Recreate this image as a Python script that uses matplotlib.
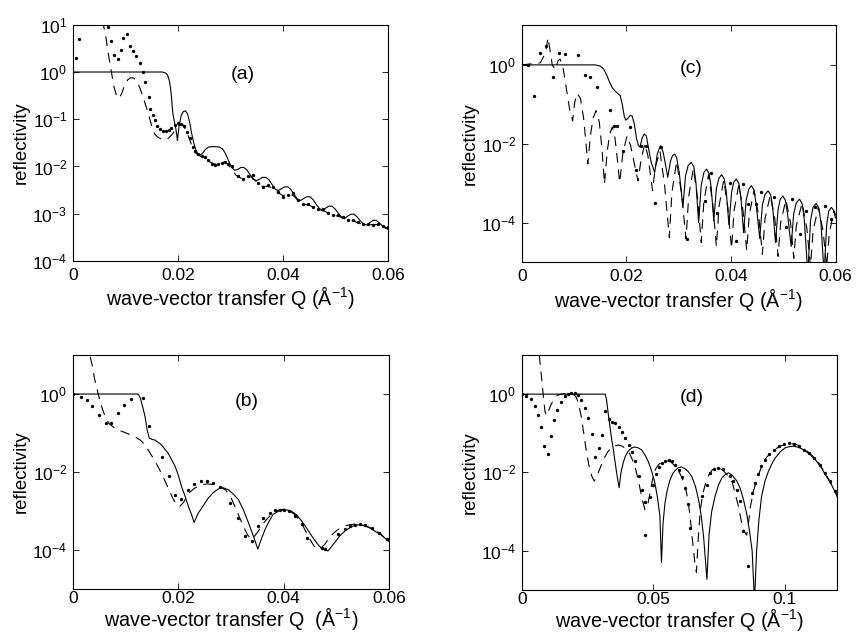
import numpy as np
import matplotlib
matplotlib.use('Agg')
import matplotlib.pyplot as plt
from matplotlib.ticker import NullLocator, FixedLocator

plt.rcParams['font.family'] = ['Liberation Sans', 'DejaVu Sans']
plt.rcParams['mathtext.fontset'] = 'custom'
plt.rcParams['mathtext.rm'] = 'Liberation Sans'
plt.rcParams['mathtext.it'] = 'Liberation Sans:italic'
plt.rcParams['mathtext.default'] = 'regular'
plt.rcParams['lines.scale_dashes'] = False

# reflectivity curves, Q in 1/A and log10(R)
# (a)
a_dots_q = [0.0006, 0.0012, 0.0066, 0.0072, 0.0079, 0.0085, 0.0091, 0.0096, 0.0103, 0.0108,
            0.0115, 0.0121, 0.0127, 0.0133, 0.0138, 0.0144, 0.0147, 0.0152, 0.0156, 0.0161,
            0.0165, 0.0171, 0.0177, 0.0182, 0.0187, 0.0194, 0.0200, 0.0205, 0.0211, 0.0217,
            0.0222, 0.0228, 0.0232, 0.0239, 0.0245, 0.0251, 0.0258, 0.0264, 0.0270, 0.0277,
            0.0283, 0.0290, 0.0296, 0.0302, 0.0315, 0.0324, 0.0334, 0.0343, 0.0353, 0.0362,
            0.0372, 0.0381, 0.0391, 0.0400, 0.0410, 0.0419, 0.0429, 0.0438, 0.0448, 0.0457,
            0.0467, 0.0476, 0.0486, 0.0495, 0.0505, 0.0514, 0.0524, 0.0533, 0.0543, 0.0552,
            0.0562, 0.0571, 0.0581, 0.0591, 0.0599]
a_dots_log = [0.29, 0.70, 0.96, 0.65, 0.36, 0.27, 0.46, 0.72, 0.81, 0.56,
              0.45, 0.34, 0.19, 0.01, -0.22, -0.52, -0.79, -0.91, -1.01, -1.15,
              -1.21, -1.24, -1.25, -1.23, -1.18, -1.12, -1.08, -1.09, -1.14, -1.28,
              -1.40, -1.58, -1.68, -1.74, -1.77, -1.79, -1.86, -1.95, -1.96, -1.94,
              -1.92, -1.90, -1.94, -2.00, -2.21, -2.27, -2.21, -2.19, -2.35, -2.43,
              -2.40, -2.43, -2.53, -2.64, -2.60, -2.57, -2.71, -2.79, -2.80, -2.85,
              -2.90, -2.91, -2.98, -3.03, -3.03, -3.06, -3.13, -3.13, -3.17, -3.22,
              -3.22, -3.24, -3.22, -3.26, -3.29]
a_dash_q = [0.0056, 0.0062, 0.0067, 0.0073, 0.0078, 0.0083, 0.0088, 0.0093, 0.0098, 0.0104,
            0.0110, 0.0116, 0.0122, 0.0128, 0.0134, 0.0140, 0.0146, 0.0151, 0.0156, 0.0162,
            0.0168, 0.0175, 0.0182, 0.0189, 0.0196, 0.0203, 0.0210, 0.0218, 0.0226, 0.0234,
            0.0242, 0.0250, 0.0260, 0.0270, 0.0280, 0.0290, 0.0300, 0.0310, 0.0320, 0.0330,
            0.0340, 0.0350, 0.0360, 0.0370, 0.0380, 0.0390, 0.0400, 0.0410, 0.0420, 0.0430,
            0.0440, 0.0450, 0.0460, 0.0470, 0.0480, 0.0490, 0.0500, 0.0510, 0.0520, 0.0530,
            0.0540, 0.0550, 0.0560, 0.0570, 0.0580, 0.0590, 0.0600]
a_dash_log = [1.1, 0.8, 0.42, 0.02, -0.3, -0.5, -0.56, -0.45, -0.3, -0.17,
              -0.12, -0.13, -0.2, -0.35, -0.55, -0.75, -0.98, -1.18, -1.32, -1.38,
              -1.42, -1.43, -1.40, -1.32, -1.20, -1.12, -1.12, -1.30, -1.55, -1.72,
              -1.78, -1.82, -1.90, -1.95, -1.93, -1.90, -2.02, -2.18, -2.25, -2.22,
              -2.22, -2.33, -2.42, -2.42, -2.45, -2.55, -2.62, -2.58, -2.62, -2.74,
              -2.80, -2.82, -2.88, -2.92, -2.95, -3.02, -3.04, -3.07, -3.12, -3.14,
              -3.18, -3.22, -3.23, -3.23, -3.23, -3.27, -3.30]
a_fit_q = [0.0, 0.0170, 0.0176, 0.0180, 0.0184, 0.0187, 0.0190, 0.0193, 0.0196, 0.0199,
           0.0202, 0.0206, 0.0210, 0.0214, 0.0218, 0.0222, 0.0226, 0.0230, 0.0234, 0.0238,
           0.0242, 0.0247, 0.0252, 0.0258, 0.0265, 0.0272, 0.0279, 0.0285, 0.0290, 0.0294,
           0.0297, 0.0302, 0.0308, 0.0314, 0.0320, 0.0325, 0.0331, 0.0337, 0.0343, 0.0349,
           0.0355, 0.0361, 0.0367, 0.0373, 0.0379, 0.0385, 0.0391, 0.0397, 0.0403, 0.0409,
           0.0415, 0.0421, 0.0427, 0.0433, 0.0439, 0.0445, 0.0451, 0.0457, 0.0463, 0.0469,
           0.0475, 0.0481, 0.0487, 0.0493, 0.0499, 0.0505, 0.0511, 0.0517, 0.0523, 0.0529,
           0.0535, 0.0541, 0.0547, 0.0553, 0.0559, 0.0565, 0.0571, 0.0577, 0.0583, 0.0589,
           0.0595, 0.0600]
a_fit_log = [0.0, 0.0, -0.02, -0.06, -0.2, -0.45, -0.85, -1.05, -1.2, -1.45,
             -1.15, -0.93, -0.84, -0.82, -0.88, -1.05, -1.3, -1.5, -1.65, -1.74,
             -1.76, -1.72, -1.64, -1.59, -1.58, -1.58, -1.59, -1.63, -1.72, -1.82,
             -1.90, -2.02, -2.08, -2.06, -2.02, -2.02, -2.07, -2.17, -2.27, -2.30,
             -2.27, -2.23, -2.23, -2.28, -2.38, -2.48, -2.51, -2.47, -2.43, -2.43,
             -2.49, -2.59, -2.69, -2.72, -2.68, -2.64, -2.64, -2.70, -2.80, -2.89,
             -2.92, -2.88, -2.84, -2.84, -2.90, -2.99, -3.07, -3.10, -3.05, -3.01,
             -3.01, -3.07, -3.15, -3.22, -3.24, -3.19, -3.14, -3.14, -3.19, -3.26,
             -3.31, -3.33]

# (b)
b_dots_q = [0.0001, 0.0015, 0.0026, 0.0037, 0.0050, 0.0063, 0.0072, 0.0086, 0.0097, 0.0110,
            0.0134, 0.0144, 0.0170, 0.0182, 0.0194, 0.0206, 0.0219, 0.0230, 0.0243, 0.0254,
            0.0266, 0.0279, 0.0298, 0.0314, 0.0327, 0.0339, 0.0352, 0.0361, 0.0374, 0.0384,
            0.0393, 0.0401, 0.0410, 0.0422, 0.0434, 0.0444, 0.0472, 0.0478, 0.0504, 0.0516,
            0.0526, 0.0535, 0.0545, 0.0554, 0.0567, 0.0580, 0.0596]
b_dots_log = [0.0, -0.07, -0.15, -0.31, -0.54, -0.73, -0.73, -0.49, -0.28, -0.14,
              -0.11, -0.82, -1.61, -2.09, -2.59, -2.70, -2.46, -2.30, -2.22, -2.22,
              -2.28, -2.39, -2.79, -3.17, -3.63, -3.76, -3.38, -3.17, -3.04, -2.97,
              -2.96, -2.96, -3.0, -3.12, -3.34, -3.68, -3.95, -3.97, -3.59, -3.46,
              -3.38, -3.36, -3.34, -3.36, -3.42, -3.55, -3.70]
b_dash_q = [0.0033, 0.0037, 0.0041, 0.0046, 0.0051, 0.0056, 0.0062, 0.0069, 0.0080, 0.0092,
            0.0105, 0.0118, 0.0128, 0.0137, 0.0146, 0.0156, 0.0165, 0.0174, 0.0183, 0.0190,
            0.0197, 0.0203, 0.0210, 0.0219, 0.0230, 0.0242, 0.0255, 0.0268, 0.0280, 0.0290,
            0.0300, 0.0308, 0.0316, 0.0324, 0.0332, 0.0340, 0.0350, 0.0362, 0.0375, 0.0388,
            0.0400, 0.0412, 0.0424, 0.0436, 0.0448, 0.0458, 0.0468, 0.0478, 0.0488, 0.0500,
            0.0512, 0.0524, 0.0536, 0.0548, 0.0560, 0.0572, 0.0584, 0.0600]
b_dash_log = [0.95, 0.72, 0.40, 0.12, -0.15, -0.38, -0.60, -0.76, -0.88, -0.95,
              -1.02, -1.10, -1.18, -1.30, -1.50, -1.72, -1.95, -2.20, -2.47, -2.68,
              -2.85, -2.87, -2.78, -2.55, -2.42, -2.33, -2.30, -2.32, -2.38, -2.46,
              -2.65, -2.90, -3.15, -3.40, -3.62, -3.72, -3.55, -3.30, -3.10, -2.98,
              -2.95, -3.00, -3.12, -3.36, -3.68, -3.90, -3.97, -3.85, -3.65, -3.50,
              -3.40, -3.35, -3.33, -3.35, -3.40, -3.48, -3.58, -3.80]
b_fit_q = [0.0, 0.0124, 0.0128, 0.0132, 0.0137, 0.0141, 0.0145, 0.0150, 0.0156, 0.0162,
           0.0168, 0.0175, 0.0181, 0.0188, 0.0194, 0.0200, 0.0206, 0.0213, 0.0219, 0.0225,
           0.0230, 0.0238, 0.0247, 0.0256, 0.0266, 0.0276, 0.0285, 0.0295, 0.0305, 0.0314,
           0.0324, 0.0333, 0.0342, 0.0351, 0.0358, 0.0365, 0.0372, 0.0380, 0.0390, 0.0399,
           0.0407, 0.0415, 0.0425, 0.0434, 0.0444, 0.0453, 0.0463, 0.0472, 0.0484, 0.0490,
           0.0497, 0.0506, 0.0516, 0.0526, 0.0535, 0.0545, 0.0554, 0.0564, 0.0573, 0.0586,
           0.0600]
b_fit_log = [0.0, 0.0, -0.1, -0.3, -0.58, -0.92, -1.13, -1.16, -1.18, -1.24,
             -1.30, -1.42, -1.52, -1.70, -1.85, -2.08, -2.36, -2.62, -2.87, -3.08,
             -3.29, -3.05, -2.87, -2.68, -2.53, -2.43, -2.40, -2.45, -2.57, -2.70,
             -2.98, -3.29, -3.62, -3.97, -3.70, -3.46, -3.27, -3.08, -3.0, -2.97,
             -2.97, -3.0, -3.1, -3.25, -3.44, -3.63, -3.82, -3.96, -4.02, -3.92,
             -3.80, -3.64, -3.51, -3.42, -3.36, -3.35, -3.38, -3.43, -3.51, -3.62,
             -3.78]

# (c)
c_dots_q = [0.0011, 0.0023, 0.0035, 0.0046, 0.0059, 0.0071, 0.0083, 0.0107, 0.0120, 0.0131,
            0.0144, 0.0168, 0.0176, 0.0181, 0.0194, 0.0206, 0.0219, 0.0227, 0.0238, 0.0254,
            0.0266, 0.0315, 0.0350, 0.0362, 0.0374, 0.0399, 0.0410, 0.0423, 0.0432, 0.0448,
            0.0458, 0.0483, 0.0506, 0.0517, 0.0531, 0.0544, 0.0560, 0.0579, 0.0591]
c_dots_log = [0.0, -0.78, 0.30, 0.48, -0.30, 0.31, 0.27, 0.25, -0.26, -0.30,
              -0.56, -1.15, -1.54, -1.54, -2.18, -1.57, -2.67, -2.05, -2.05, -3.49,
              -2.09, -4.41, -3.44, -2.73, -3.76, -3.0, -4.46, -3.02, -3.53, -3.53,
              -3.21, -3.34, -4.1, -3.40, -4.28, -3.70, -3.61, -3.57, -3.9]
c_dash_q = [0.0, 0.0035, 0.0045, 0.0050, 0.0054, 0.0058, 0.0064, 0.0069, 0.0073, 0.0079,
            0.0085, 0.0091, 0.0097, 0.0101, 0.0106, 0.0112, 0.0118, 0.0122, 0.0126, 0.0131,
            0.0136, 0.0142, 0.0148, 0.0153, 0.0158, 0.0163, 0.0168, 0.0173, 0.0178, 0.0183,
            0.0187, 0.0193, 0.0201, 0.0208, 0.0215, 0.0222, 0.0228, 0.0235, 0.0241, 0.0246,
            0.0250, 0.0255, 0.0264, 0.0273, 0.0282, 0.0287, 0.0296, 0.0305, 0.0314, 0.0319,
            0.0328, 0.0336, 0.0343, 0.0348, 0.0357, 0.0365, 0.0372, 0.0377, 0.0386, 0.0394,
            0.0401, 0.0406, 0.0415, 0.0423, 0.0430, 0.0435, 0.0444, 0.0453, 0.0460, 0.0465,
            0.0475, 0.0484, 0.0490, 0.0495, 0.0505, 0.0514, 0.0520, 0.0525, 0.0536, 0.0545,
            0.0552, 0.0557, 0.0567, 0.0576, 0.0583, 0.0588, 0.0597, 0.0600]
c_dash_log = [0.0, 0.05, 0.30, 0.69, 0.35, 0.0, -0.12, 0.10, 0.15, -0.10,
              -0.60, -1.10, -1.42, -0.95, -0.72, -0.85, -1.35, -1.90, -2.51, -1.80,
              -1.35, -1.16, -1.45, -2.10, -3.02, -2.20, -1.75, -1.57, -1.85, -2.45,
              -2.98, -2.25, -1.80, -2.05, -2.50, -2.94, -2.40, -2.00, -2.30, -2.80,
              -3.19, -2.60, -2.18, -3.06, -4.37, -3.22, -2.45, -3.23, -4.41, -3.33,
              -2.62, -3.37, -4.50, -3.47, -2.78, -3.51, -4.60, -3.59, -2.92, -3.61,
              -4.65, -3.68, -3.03, -3.70, -4.70, -3.79, -3.18, -3.83, -4.80, -3.90,
              -3.30, -3.92, -4.85, -3.99, -3.42, -4.01, -4.90, -4.06, -3.50, -4.14,
              -5.10, -4.20, -3.60, -4.20, -5.10, -4.26, -3.70, -3.90]
c_fit_q = [0.0, 0.0140, 0.0150, 0.0156, 0.0162, 0.0168, 0.0173, 0.0178, 0.0183, 0.0188,
           0.0192, 0.0196, 0.0199, 0.0203, 0.0207, 0.0211, 0.0215, 0.0219, 0.0223, 0.0226,
           0.0230, 0.0234, 0.0238, 0.0242, 0.0247, 0.0254, 0.0259, 0.0265, 0.0270, 0.0275,
           0.0279, 0.0284, 0.0288, 0.0292, 0.0296, 0.0301,
           0.0308, 0.0313, 0.0318, 0.0324, 0.0329, 0.0333,
           0.0338, 0.0343, 0.0348, 0.0353, 0.0358, 0.0362,
           0.0367, 0.0372, 0.0377, 0.0382, 0.0387, 0.0391,
           0.0396, 0.0401, 0.0405, 0.0410, 0.0415, 0.0419,
           0.0424, 0.0429, 0.0434, 0.0439, 0.0444, 0.0448,
           0.0455, 0.0460, 0.0465, 0.0471, 0.0476, 0.0480,
           0.0485, 0.0490, 0.0494, 0.0499, 0.0504, 0.0508,
           0.0515, 0.0520, 0.0525, 0.0531, 0.0536, 0.0540,
           0.0547, 0.0552, 0.0557, 0.0563, 0.0568, 0.0572,
           0.0578, 0.0583, 0.0587, 0.0592, 0.0596, 0.0600]
c_fit_log = [0.0, 0.0, -0.03, -0.10, -0.25, -0.45, -0.58, -0.66, -0.72, -0.78,
             -1.0, -1.32, -1.40, -1.35, -1.28, -1.30, -1.50, -1.85, -2.05, -2.08,
             -1.85, -1.75, -1.80, -2.10, -2.45, -2.73, -2.25, -2.05, -2.20, -2.55,
             -2.85, -2.45, -2.30, -2.26, -2.35, -2.73,
             -3.60, -2.81, -2.55, -2.47, -2.58, -3.00,
             -4.00, -3.05, -2.73, -2.64, -2.75, -3.10,
             -3.95, -3.13, -2.87, -2.78, -2.89, -3.22,
             -4.05, -3.24, -2.98, -2.89, -3.00, -3.37,
             -4.25, -3.42, -3.15, -3.06, -3.17, -3.53,
             -4.40, -3.55, -3.28, -3.19, -3.30, -3.65,
             -4.50, -3.67, -3.41, -3.32, -3.43, -3.77,
             -4.60, -3.76, -3.49, -3.40, -3.52, -3.90,
             -5.30, -3.95, -3.60, -3.51, -3.63, -4.00,
             -5.30, -4.05, -3.70, -3.61, -3.68, -3.80]

# (d)
d_dots_q = [0.0, 0.0016, 0.0033, 0.0048, 0.0061, 0.0074, 0.0084, 0.0099, 0.0109, 0.0122,
            0.0135, 0.0150, 0.0163, 0.0175, 0.0188, 0.0201, 0.0213, 0.0226, 0.0239, 0.0251,
            0.0267, 0.0279, 0.0292, 0.0305, 0.0317, 0.0330, 0.0342, 0.0354, 0.0368, 0.0381,
            0.0394, 0.0406, 0.0419, 0.0432, 0.0444, 0.0457, 0.0467, 0.0470, 0.0487, 0.0499,
            0.0509, 0.0521, 0.0533, 0.0546, 0.0558, 0.0571, 0.0584, 0.0596, 0.0608, 0.0620,
            0.0632, 0.0640, 0.0685, 0.0704, 0.0716, 0.0730, 0.0748, 0.0766, 0.0792, 0.0805,
            0.0818, 0.0830, 0.0843, 0.0860, 0.0877, 0.0888, 0.0898, 0.0911, 0.0926, 0.0942,
            0.0961, 0.0980, 0.0999, 0.1018, 0.1037, 0.1056, 0.1075, 0.1094, 0.1113, 0.1133,
            0.1152, 0.1171, 0.1190]
d_dots_log = [0.0, -0.04, -0.13, -0.31, -0.53, -0.84, -1.33, -1.54, -1.06, -0.65,
              -0.40, -0.19, -0.06, 0.01, 0.02, 0.02, -0.02, -0.14, -0.36, -0.61,
              -1.01, -1.60, -1.37, -1.04, -0.44, -0.64, -0.70, -0.74, -0.84, -0.98,
              -1.12, -1.29, -1.49, -1.71, -2.10, -2.44, -2.76, -3.61, -2.62, -2.31,
              -2.05, -1.86, -1.76, -1.70, -1.69, -1.71, -1.80, -1.95, -2.11, -2.40,
              -2.80, -3.41, -2.61, -2.31, -2.01, -1.92, -1.88, -1.92, -2.10, -2.22,
              -2.44, -2.73, -3.50, -4.39, -2.52, -2.26, -2.05, -1.84, -1.67, -1.54,
              -1.42, -1.33, -1.28, -1.26, -1.27, -1.33, -1.42, -1.50, -1.63, -1.80,
              -2.01, -2.22, -2.48]
d_dash_q = [0.0066, 0.0072, 0.0078, 0.0083, 0.0088, 0.0093, 0.0100, 0.0110, 0.0122, 0.0135,
            0.0150, 0.0170, 0.0190, 0.0205, 0.0215, 0.0225, 0.0235, 0.0245, 0.0255, 0.0265,
            0.0275, 0.0285, 0.0298, 0.0312, 0.0326, 0.0340, 0.0354, 0.0368, 0.0382, 0.0396,
            0.0410, 0.0422, 0.0434, 0.0446, 0.0458, 0.0468, 0.0478, 0.0488, 0.0498, 0.0508,
            0.0520, 0.0535, 0.0550, 0.0565, 0.0580, 0.0595, 0.0608, 0.0620, 0.0632, 0.0641,
            0.0650, 0.0658, 0.0664, 0.0670, 0.0678, 0.0688, 0.0700, 0.0712, 0.0725, 0.0740,
            0.0755, 0.0770, 0.0785, 0.0800, 0.0812, 0.0824, 0.0835, 0.0845, 0.0855, 0.0862,
            0.0870, 0.0882, 0.0895, 0.0910, 0.0930, 0.0950, 0.0970, 0.0990, 0.1010, 0.1030,
            0.1050, 0.1070, 0.1090, 0.1110, 0.1130, 0.1150, 0.1170, 0.1185, 0.1200]
d_dash_log = [1.0, 0.6, 0.2, -0.15, -0.45, -0.55, -0.45, -0.28, -0.12, -0.03,
              0.0, 0.02, 0.02, -0.06, -0.22, -0.55, -0.98, -1.45, -1.82, -2.08,
              -2.22, -2.10, -1.88, -1.65, -1.48, -1.37, -1.32, -1.30, -1.33, -1.40,
              -1.52, -1.70, -1.95, -2.30, -2.70, -2.95, -2.85, -2.50, -2.15, -1.92,
              -1.80, -1.72, -1.70, -1.72, -1.82, -1.95, -2.12, -2.32, -2.70, -3.20,
              -3.80, -4.30, -4.55, -3.80, -3.00, -2.55, -2.25, -2.05, -1.93, -1.88,
              -1.90, -1.98, -2.10, -2.25, -2.55, -2.87, -3.25, -3.50, -3.60, -3.30,
              -2.85, -2.45, -2.15, -1.88, -1.62, -1.48, -1.38, -1.31, -1.27, -1.27,
              -1.30, -1.38, -1.48, -1.60, -1.76, -1.98, -2.20, -2.40, -2.62]
d_fit_q = [0.0, 0.0317, 0.0322, 0.0328, 0.0334, 0.0340, 0.0348, 0.0355, 0.0362, 0.0370,
           0.0377, 0.0385, 0.0394, 0.0404, 0.0416, 0.0429, 0.0442, 0.0455, 0.0468, 0.0480,
           0.0493, 0.0506, 0.0516, 0.0525, 0.0531, 0.0537, 0.0544, 0.0553, 0.0563, 0.0574,
           0.0583, 0.0595, 0.0608, 0.0620, 0.0633, 0.0646, 0.0660, 0.0672, 0.0682, 0.0691,
           0.0704, 0.0712, 0.0722, 0.0735, 0.0748, 0.0761, 0.0774, 0.0786, 0.0800, 0.0818,
           0.0830, 0.0843, 0.0855, 0.0865, 0.0876, 0.0885, 0.0893, 0.0902, 0.0912, 0.0925,
           0.0938, 0.0951, 0.0964, 0.0983, 0.1002, 0.1018, 0.1034, 0.1053, 0.1072, 0.1094,
           0.1116, 0.1135, 0.1154, 0.1177, 0.1200]
d_fit_log = [0.0, 0.0, -0.15, -0.48, -0.78, -1.08, -1.42, -1.76, -2.08, -2.39,
             -2.0, -1.76, -1.58, -1.46, -1.38, -1.35, -1.37, -1.42, -1.55, -1.71,
             -1.95, -2.27, -2.65, -3.11, -4.30, -3.3, -2.80, -2.45, -2.20, -2.03,
             -1.95, -1.88, -1.86, -1.90, -1.98, -2.10, -2.35, -2.69, -3.10, -3.62,
             -4.73, -3.6, -3.0, -2.61, -2.32, -2.14, -2.05, -2.01, -2.07, -2.22,
             -2.40, -2.69, -3.05, -3.45, -4.0, -5.3, -4.0, -3.2, -2.61, -2.22,
             -1.97, -1.78, -1.63, -1.47, -1.37, -1.34, -1.33, -1.36, -1.42, -1.53,
             -1.67, -1.84, -2.05, -2.30, -2.61]

TICK_FS = 12.5
XLAB_FS = 14.2
YLAB_FS = 13.4
XLAB = 'wave-vector transfer Q (Å$^{-1}$)'

fig = plt.figure(figsize=(8.57, 6.35), dpi=100)

# tag, axes rect, x max, x ticks, x tick labels, y limits, y ticks,
# tag position, x label, x tick pad, x label pad, then the three curves
panels = [
    ('(a)', [0.085, 0.589, 0.368, 0.372], 0.06, [0, 0.02, 0.04, 0.06], ['0', '0.02', '0.04', '0.06'],
     (1e-4, 1e1), [1e-4, 1e-3, 1e-2, 1e-1, 1e0, 1e1], (0.0323, -0.06), XLAB, 5, 1,
     a_dots_q, a_dots_log, a_dash_q, a_dash_log, a_fit_q, a_fit_log),
    ('(c)', [0.609, 0.587, 0.366, 0.373], 0.06, [0, 0.02, 0.04, 0.06], ['0', '0.02', '0.04', '0.06'],
     (1e-5, 1e1), [1e-4, 1e-2, 1e0], (0.0323, -0.08), XLAB, 5, 1,
     c_dots_q, c_dots_log, c_dash_q, c_dash_log, c_fit_q, c_fit_log),
    ('(b)', [0.085, 0.072, 0.369, 0.369], 0.06, [0, 0.02, 0.04, 0.06], ['0', '0.02', '0.04', '0.06'],
     (1e-5, 1e1), [1e-4, 1e-2, 1e0], (0.033, -0.18), 'wave-vector transfer Q  (Å$^{-1}$)', 1.5, -1,
     b_dots_q, b_dots_log, b_dash_q, b_dash_log, b_fit_q, b_fit_log),
    ('(d)', [0.609, 0.071, 0.368, 0.370], 0.12, [0, 0.05, 0.1], ['0', '0.05', '0.1'],
     (1e-5, 1e1), [1e-4, 1e-2, 1e0], (0.0648, -0.08), XLAB, 1.5, -1,
     d_dots_q, d_dots_log, d_dash_q, d_dash_log, d_fit_q, d_fit_log),
]

for (tag, rect, xmax, xt, xtl, ylim, yt, tpos, xlab, xpad, lpad,
     dq, dl, sq, sl, fq, fl) in panels:
    ax = fig.add_axes(rect)
    ax.set_yscale('log')
    ax.plot(fq, np.power(10.0, fl), color='black', lw=0.8)
    ax.plot(sq, np.power(10.0, sl), color='black', lw=0.8, dashes=(7, 5))
    ax.plot(dq, np.power(10.0, dl), 'o', color='black', ms=2.4, mew=0)
    ax.set_xlim(0, xmax)
    ax.set_ylim(*ylim)
    ax.xaxis.set_major_locator(FixedLocator(xt))
    ax.set_xticklabels(xtl)
    ax.yaxis.set_major_locator(FixedLocator(yt))
    ax.yaxis.set_minor_locator(NullLocator())
    ax.tick_params(direction='in', top=True, right=True, length=4, width=0.6,
                   labelsize=TICK_FS)
    ax.tick_params(axis='x', pad=xpad)
    ax.tick_params(axis='y', pad=4)
    for s in ax.spines.values():
        s.set_linewidth(0.8)
    ax.set_xlabel(xlab, fontsize=XLAB_FS, labelpad=lpad)
    ax.set_ylabel('reflectivity', fontsize=YLAB_FS, labelpad=2)
    ax.text(tpos[0], 10 ** tpos[1], tag, ha='center', va='center', fontsize=14)

fig.savefig('out.png', dpi=100)
